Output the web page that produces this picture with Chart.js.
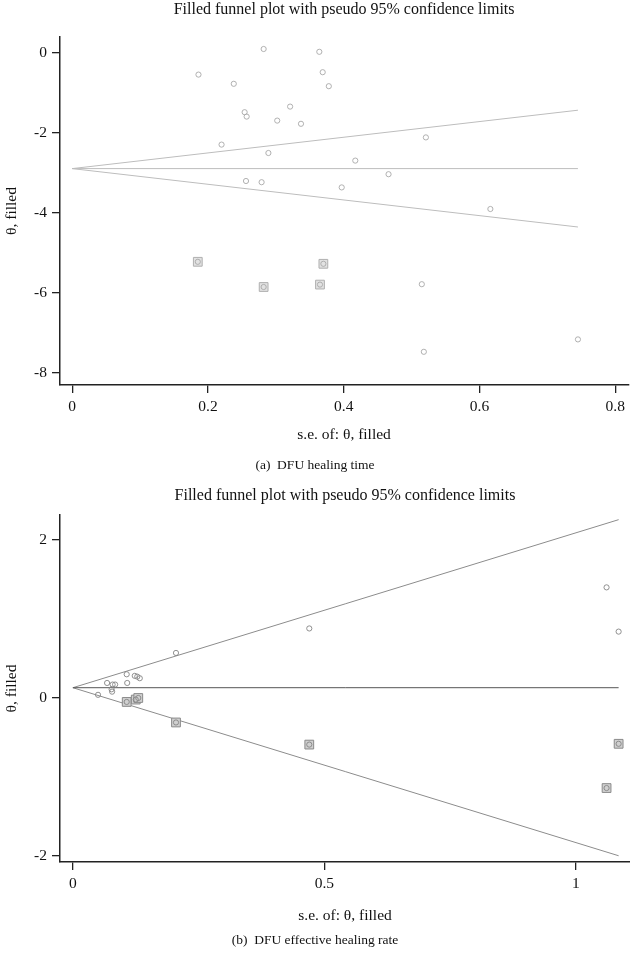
<!DOCTYPE html>
<html>
<head>
<meta charset="utf-8">
<script src="https://cdn.jsdelivr.net/npm/chart.js@4.4.1/dist/chart.umd.min.js"></script>
<style>
  html, body { margin: 0; padding: 0; background: #fff; }
  .grafica { position: absolute; left: 0; width: 630px; }
</style>
</head>
<body>
<div class="grafica" style="top:0;height:478px"><canvas id="funnelA"></canvas></div>
<div class="grafica" style="top:478px;height:479px"><canvas id="funnelB"></canvas></div>

<script>
// (a) DFU healing time - estudios observados
const seA = [0.282, 0.364, 0.186, 0.238, 0.369, 0.378, 0.254, 0.257, 0.321, 0.302, 0.337, 0.220,
             0.289, 0.417, 0.521, 0.256, 0.279, 0.397, 0.466, 0.616, 0.515, 0.518, 0.745];
const thetaA = [0.09, 0.02, -0.55, -0.78, -0.49, -0.84, -1.49, -1.60, -1.35, -1.70, -1.78, -2.30,
                -2.51, -2.70, -2.12, -3.21, -3.24, -3.37, -3.04, -3.91, -5.79, -7.48, -7.17];
// estudios imputados (trim and fill)
const seRellenoA = [0.185, 0.370, 0.282, 0.365];
const thetaRellenoA = [-5.23, -5.28, -5.86, -5.80];
// limites pseudo 95%
const seLimiteA = [0, 0.745];
const centroA = [-2.90, -2.90];
const superiorA = [-2.90, -1.44];
const inferiorA = [-2.90, -4.36];
const ticksXA = [0, 0.2, 0.4, 0.6, 0.8];
const ticksYA = [-8, -6, -4, -2, 0];

// (b) DFU effective healing rate
const seB = [0.205, 0.107, 0.123, 0.128, 0.133, 0.068, 0.079, 0.084, 0.108, 0.077, 0.078, 0.050,
             0.470, 1.061, 1.085];
const thetaB = [0.57, 0.30, 0.28, 0.27, 0.25, 0.19, 0.17, 0.17, 0.19, 0.11, 0.08, 0.04,
                0.88, 1.40, 0.84];
const seRellenoB = [0.107, 0.125, 0.130, 0.205, 0.470, 1.061, 1.085];
const thetaRellenoB = [-0.05, -0.02, 0.00, -0.31, -0.59, -1.14, -0.58];
const seLimiteB = [0, 1.085];
const centroB = [0.13, 0.13];
const superiorB = [0.13, 2.257];
const inferiorB = [0.13, -1.997];
const ticksXB = [0, 0.5, 1];
const ticksYB = [-2, 0, 2];

const fuente = "'Liberation Serif', 'DejaVu Serif', serif";

function puntos(xs, ys) {
  return xs.map((x, i) => ({ x: x, y: ys[i] }));
}

function lineaDataset(xs, ys, color, ancho) {
  return {
    data: puntos(xs, ys),
    showLine: true,
    borderColor: color,
    borderWidth: ancho,
    pointRadius: 0,
    order: 3,
  };
}

function crearFunnel(id, cfg) {
  const ctx = document.getElementById(id).getContext("2d");
  new Chart(ctx, {
    type: "scatter",
    data: {
      datasets: [
        // circulos observados
        {
          data: puntos(cfg.se, cfg.theta),
          pointStyle: "circle",
          pointRadius: 2.6,
          borderWidth: 0.9,
          borderColor: cfg.colorPunto,
          backgroundColor: "rgba(255,255,255,0)",
          order: 0,
        },
        // circulo dentro de los cuadros rellenados
        {
          data: puntos(cfg.seRelleno, cfg.thetaRelleno),
          pointStyle: "circle",
          pointRadius: 2.6,
          borderWidth: 0.9,
          borderColor: cfg.colorPunto,
          backgroundColor: "rgba(255,255,255,0)",
          order: 1,
        },
        {
          data: puntos(cfg.seRelleno, cfg.thetaRelleno),
          pointStyle: "rect",
          pointRadius: 6.2,
          borderWidth: 1,
          borderColor: cfg.colorCuadro,
          backgroundColor: cfg.fondoCuadro,
          order: 2,
        },
        lineaDataset(cfg.seLimite, cfg.centro, cfg.colorCentro, 1),
        lineaDataset(cfg.seLimite, cfg.superior, cfg.colorLinea, 1),
        lineaDataset(cfg.seLimite, cfg.inferior, cfg.colorLinea, 1),
      ],
    },
    options: {
      responsive: true,
      maintainAspectRatio: false,
      animation: false,
      layout: { padding: 0, autoPadding: false },
      plugins: {
        legend: { display: false },
        tooltip: { enabled: false },
        title: {
          display: true,
          fullSize: false,
          text: "Filled funnel plot with pseudo 95% confidence limits",
          color: "#111",
          font: { family: fuente, size: 16, weight: "normal" },
          padding: cfg.paddingTitulo,
        },
        subtitle: {
          display: true,
          position: "bottom",
          text: cfg.pie,
          color: "#111",
          font: { family: fuente, size: 13.5, weight: "normal" },
          padding: cfg.paddingPie,
        },
      },
      scales: {
        x: {
          type: "linear",
          min: cfg.xMin,
          max: cfg.xMax,
          afterBuildTicks: s => { s.ticks = cfg.ticksX.map(v => ({ value: v })); },
          afterFit: s => { s.height = cfg.altoX; },
          grid: { drawOnChartArea: false, drawTicks: true, tickLength: 8, color: "#222", lineWidth: 1.3 },
          border: { display: true, color: "#222", width: 1.5 },
          ticks: { color: "#111", padding: 5, maxRotation: 0, font: { family: fuente, size: 15.5 }, callback: v => String(v) },
          title: {
            display: true,
            text: "s.e. of: θ, filled",
            color: "#111",
            font: { family: fuente, size: 15.5 },
            padding: { top: 0, bottom: cfg.padTituloX },
          },
        },
        y: {
          type: "linear",
          min: cfg.yMin,
          max: cfg.yMax,
          afterBuildTicks: s => { s.ticks = cfg.ticksY.map(v => ({ value: v })); },
          afterFit: s => { s.width = 60; },
          grid: { drawOnChartArea: false, drawTicks: true, tickLength: 8, color: "#222", lineWidth: 1.3 },
          border: { display: true, color: "#222", width: 1.5 },
          ticks: { color: "#111", padding: 5, font: { family: fuente, size: 15.5 }, callback: v => String(v) },
          title: {
            display: true,
            text: "θ, filled",
            color: "#111",
            font: { family: fuente, size: 15.5 },
            padding: { top: 3, bottom: 0 },
          },
        },
      },
    },
  });
}

// Grafica (a)
crearFunnel("funnelA", {
  se: seA, theta: thetaA,
  seRelleno: seRellenoA, thetaRelleno: thetaRellenoA,
  seLimite: seLimiteA, centro: centroA, superior: superiorA, inferior: inferiorA,
  ticksX: ticksXA, ticksY: ticksYA,
  xMin: -0.018, xMax: 0.819, yMin: -8.31, yMax: 0.39,
  colorPunto: "#a8a8a8", colorCuadro: "#b0b0b0", fondoCuadro: "#e2e2e2",
  colorLinea: "#bdbdbd", colorCentro: "#bdbdbd",
  pie: "(a)  DFU healing time",
  paddingTitulo: { top: 0.5, bottom: 17.3 },
  paddingPie: { top: 10, bottom: 4.8 },
  altoX: 62, padTituloX: 3,
});

// Grafica (b)
crearFunnel("funnelB", {
  se: seB, theta: thetaB,
  seRelleno: seRellenoB, thetaRelleno: thetaRellenoB,
  seLimite: seLimiteB, centro: centroB, superior: superiorB, inferior: inferiorB,
  ticksX: ticksXB, ticksY: ticksYB,
  xMin: -0.0256, xMax: 1.1076, yMin: -2.076, yMax: 2.316,
  colorPunto: "#858585", colorCuadro: "#8a8a8a", fondoCuadro: "#d0d0d0",
  colorLinea: "#8c8c8c", colorCentro: "#555555",
  pie: "(b)  DFU effective healing rate",
  paddingTitulo: { top: 8.5, bottom: 9.3 },
  paddingPie: { top: 6, bottom: 8.8 },
  altoX: 64, padTituloX: 1,
});
</script>
</body>
</html>
